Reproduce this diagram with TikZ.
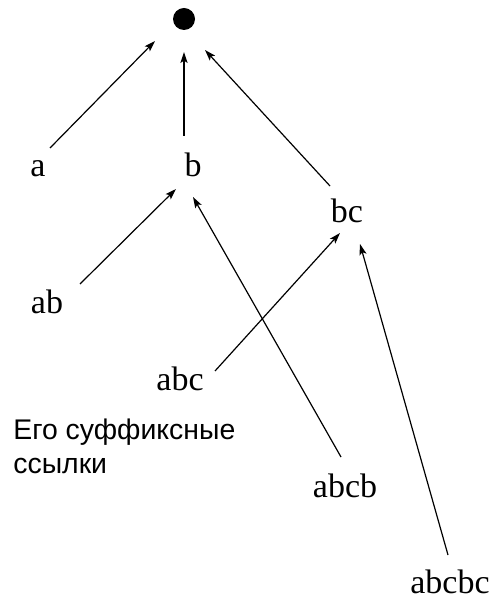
\documentclass[tikz,border=0pt]{standalone}
\usepackage{fontspec}
\setmainfont{Liberation Serif}
\newfontfamily\rusans{Liberation Sans}
\usetikzlibrary{arrows.meta}

\tikzset{
  word/.style={anchor=base, inner sep=0pt, font=\fontsize{17}{20}\selectfont},
  link/.style={-{Stealth[length=5.5pt,width=3.6pt,inset=1.2pt]}, line width=0.6pt},
}

\begin{document}
\begin{tikzpicture}[x=0.5pt, y=-0.5pt]
\useasboundingbox (0,0) rectangle (493,598);

\node[circle, fill, minimum size=11pt, inner sep=0pt] (root) at (184,19) {};
\node[word] (a) at (38,177) {a};
\node[word] (b) at (193,177) {b};
\node[word] (bc) at (347,223) {bc};
\node[word] (ab) at (47,313) {ab};
\node[word] (abc) at (180,390) {abc};
\node[word] (abcb) at (345,497) {abcb};
\node[word] (abcbc) at (450,593) {abcbc};

% suffix links
\draw[link] ([shift={(12,-29)}]a.base) -- ([shift={(-29,22)}]root.center);
\draw[link] ([shift={(-9,-41)}]b.base) -- ([shift={(0,33)}]root.center);
\draw[link] ([shift={(-17,-37)}]bc.base) -- ([shift={(21,31)}]root.center);
\draw[link] ([shift={(33,-29)}]ab.base) -- ([shift={(-17,12)}]b.base);
\draw[link] ([shift={(-4,-40)}]abcb.base) -- ([shift={(0,20)}]b.base);
\draw[link] ([shift={(35,-19)}]abc.base) -- ([shift={(-7,10)}]bc.base);
\draw[link] ([shift={(-2,-38)}]abcbc.base) -- ([shift={(13,21)}]bc.base);

\node[anchor=base west, inner sep=0pt, align=left, font=\rusans\fontsize{14.2}{17}\selectfont] (note) at (13,473) {Его суффиксные\\ссылки};
\end{tikzpicture}
\end{document}
